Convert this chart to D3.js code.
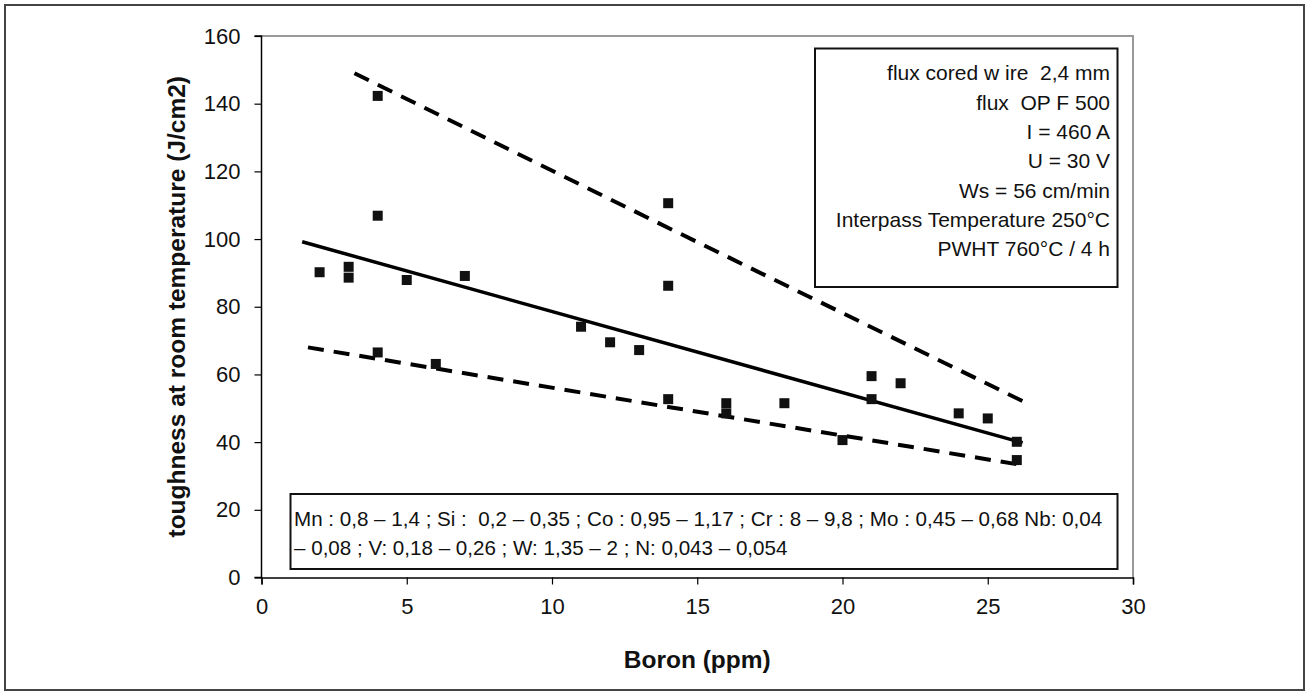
<!DOCTYPE html>
<html><head><meta charset="utf-8">
<script src="https://cdn.jsdelivr.net/npm/d3@7/dist/d3.min.js"></script>
<style>
html,body{margin:0;padding:0;background:#fff;}
svg{display:block;font-family:"Liberation Sans",Arial,sans-serif;}
text{white-space:pre;}
</style></head>
<body><svg id="c" width="1307" height="693"></svg>
<script>
const boron = [2,3,3,4,4,4,5,6,7,11,12,13,14,14,14,16,16,18,20,21,21,22,24,25,26,26];
const toughness = [90.2,91.8,88.6,142.3,106.9,66.5,87.9,63.1,89.1,74.1,69.5,67.2,110.6,86.2,52.7,51.5,48.5,51.5,40.6,59.5,52.7,57.4,48.5,47,40.1,34.7];
const trendX = [1.4,26.2], trendY = [99.2,39.8];
const upperX = [3.2,13.6,26.3], upperY = [149,105,51.7];
const lowerX = [1.6,14,26.2], lowerY = [68,50.4,33.2];
const xTicks = [0,5,10,15,20,25,30];
const yTicks = [0,20,40,60,80,100,120,140,160];
const xTitle = "Boron (ppm)";
const yTitle = "toughness at room temperature (J/cm2)";
const legendLines = ["flux cored w ire  2,4 mm","flux  OP F 500","I = 460 A","U = 30 V","Ws = 56 cm/min","Interpass Temperature 250°C","PWHT 760°C / 4 h"];
const compLines = ["Mn : 0,8 – 1,4 ; Si :  0,2 – 0,35 ; Co : 0,95 – 1,17 ; Cr : 8 – 9,8 ; Mo : 0,45 – 0,68 Nb: 0,04","– 0,08 ; V: 0,18 – 0,26 ; W: 1,35 – 2 ; N: 0,043 – 0,054"];

const svg = d3.select("#c");
const L=261.5, R=1133, T=36, B=577.5;
const x = d3.scaleLinear().domain([0,30]).range([L,R]);
const y = d3.scaleLinear().domain([0,160]).range([B,T]);

// outer frame
svg.append("rect").attr("x",5).attr("y",5).attr("width",1299).attr("height",685)
  .attr("fill","#fff").attr("stroke","#444").attr("stroke-width",2);

// plot border top/right
svg.append("path").attr("d",`M${L},${T}H${R}V${B}`).attr("fill","none").attr("stroke","#999").attr("stroke-width",2);

// axes
const xa = svg.append("g").attr("transform",`translate(0,${B})`)
  .call(d3.axisBottom(x).tickValues(xTicks).tickSize(7).tickPadding(14).tickFormat(d3.format("d")));
const ya = svg.append("g").attr("transform",`translate(${L},0)`)
  .call(d3.axisLeft(y).tickValues(yTicks).tickSize(7).tickPadding(14).tickFormat(d3.format("d")));
[xa,ya].forEach(g=>{
  g.select(".domain").attr("stroke","#000").attr("stroke-width",1.5);
  g.selectAll(".tick line").attr("stroke","#000").attr("stroke-width",1.2);
  g.selectAll("text").attr("font-size",22).attr("fill","#111").attr("font-family","'Liberation Sans',Arial,sans-serif");
});
ya.select(".domain").attr("d",`M-7,${B}H0V${T}H-7`);

// titles
svg.append("text").attr("x",(L+R)/2).attr("y",668).attr("text-anchor","middle")
  .attr("font-size",24.5).attr("font-weight","bold").attr("fill","#111").text(xTitle);
svg.append("text").attr("transform",`translate(185,${(T+B)/2}) rotate(-90)`).attr("text-anchor","middle")
  .attr("font-size",24.5).attr("font-weight","bold").attr("fill","#111").text(yTitle);

// lines
const line = d3.line().x(d=>x(d[0])).y(d=>y(d[1]));
svg.append("path").datum(trendX.map((v,i)=>[v,trendY[i]])).attr("d",line)
  .attr("fill","none").attr("stroke","#000").attr("stroke-width",3.5);
svg.append("path").datum(upperX.map((v,i)=>[v,upperY[i]])).attr("d",line)
  .attr("fill","none").attr("stroke","#000").attr("stroke-width",4).attr("stroke-dasharray","16,10");
svg.append("path").datum(lowerX.map((v,i)=>[v,lowerY[i]])).attr("d",line)
  .attr("fill","none").attr("stroke","#000").attr("stroke-width",4).attr("stroke-dasharray","16,10");

// points
const s=10;
svg.append("g").selectAll("rect").data(boron.map((b,i)=>[b,toughness[i]])).join("rect")
  .attr("x",d=>x(d[0])-s/2).attr("y",d=>y(d[1])-s/2).attr("width",s).attr("height",s).attr("fill","#111");

// legend box
svg.append("rect").attr("x",815).attr("y",48.5).attr("width",302.5).attr("height",238.5)
  .attr("fill","#fff").attr("stroke","#111").attr("stroke-width",2);
svg.append("g").selectAll("text").data(legendLines).join("text")
  .attr("x",1110).attr("y",(d,i)=>73+i*29.3).attr("dy","0.35em").attr("text-anchor","end")
  .attr("font-size",21).attr("fill","#111").text(d=>d);

// composition box
svg.append("rect").attr("x",290.5).attr("y",494).attr("width",827).attr("height",75)
  .attr("fill","#fff").attr("stroke","#111").attr("stroke-width",2);
svg.append("g").selectAll("text").data(compLines).join("text")
  .attr("x",294).attr("y",(d,i)=>519+i*29).attr("dy","0.35em")
  .attr("font-size",20.6).attr("fill","#111").text(d=>d);
</script></body></html>
